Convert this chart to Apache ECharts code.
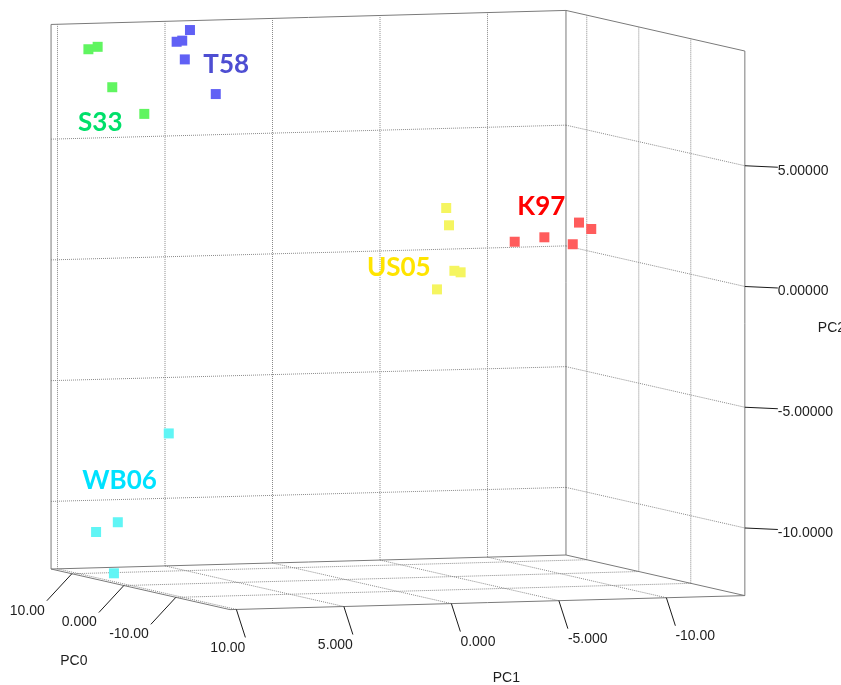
<!DOCTYPE html>
<html><head><meta charset="utf-8">
<script src="https://cdn.jsdelivr.net/npm/echarts@6/dist/echarts.min.js"></script>
<style>html,body{margin:0;padding:0;background:#fff}#c{width:841px;height:685px}</style>
</head><body><div id="c"></div>
<script>
// ---- data: PCA scores [PC0, PC1, PC2] ----
const groupNames = ['S33', 'T58', 'US05', 'K97', 'WB06'];
const s33Scores  = [[10, 9.53, 8.90], [10, 9.10, 8.99], [10, 8.42, 7.30], [10, 6.93, 6.16]];
const t58Scores  = [[8, 5.29, 9.69], [8, 5.91, 9.22], [8, 5.65, 9.26], [8, 5.53, 8.48], [8, 4.09, 7.01]];
const us05Scores = [[-2, -4.21, 2.58], [-2, -4.34, 1.86], [-2, -4.59, -0.03], [-2, -4.88, -0.10], [-2, -3.78, -0.78]];
const k97Scores  = [[-5, -6.67, 1.27], [-5, -8.05, 1.42], [-5, -9.37, 1.10], [-5, -9.66, 1.99], [-5, -10.23, 1.71]];
const wb06Scores = [[6, 6.76, -6.88], [6, 9.13, -10.50], [6, 10.14, -10.88], [6, 9.31, -12.61]];

const pc0Range = [-20.4, 14];
const pc1Range = [-13.65, 10.3];
const pc2Range = [-12.8, 9.75];
const pc0Ticks = [10, 0, -10];
const pc0TickLabels = ['10.00', '0.000', '-10.00'];
const pc1Ticks = [10, 5, 0, -5, -10];
const pc1TickLabels = ['10.00', '5.000', '0.000', '-5.000', '-10.00'];
const pc2Ticks = [5, 0, -5, -10];
const pc2TickLabels = ['5.00000', '0.00000', '-5.00000', '-10.0000'];
const axisNames = ['PC0', 'PC1', 'PC2'];

// ---- view (oblique projection of the 3D box onto the page) ----
const VIEW = { ox: 345.3, oy: 270.4, e0: [-5.2, -1.18], e1: [-21.5, 0.585], e2: [0, -24.15] };
function proj(p) {
  return [VIEW.ox + VIEW.e0[0] * p[0] + VIEW.e1[0] * p[1] + VIEW.e2[0] * p[2],
          VIEW.oy + VIEW.e0[1] * p[0] + VIEW.e1[1] * p[1] + VIEW.e2[1] * p[2]];
}
const groups = [s33Scores, t58Scores, us05Scores, k97Scores, wb06Scores];
const pointColors = ['#60f560', '#6060f5', '#f5f560', '#ff5c5c', '#60f5f5'];
const labelColors = ['#00e06a', '#4e4ed2', '#ffe400', '#ff0000', '#00e2ff'];

const [a0, b0] = pc0Range, [a1, b1] = pc1Range, [a2, b2] = pc2Range;
function seg(p, q) { const u = proj(p), v = proj(q); return [u[0], u[1], v[0], v[1]]; }

const solid = [
  seg([b0, b1, a2], [b0, b1, b2]), seg([b0, b1, b2], [b0, a1, b2]), seg([b0, a1, b2], [b0, a1, a2]),
  seg([b0, b1, a2], [b0, a1, a2]), seg([b0, a1, b2], [a0, a1, b2]), seg([a0, a1, b2], [a0, a1, a2]),
  seg([b0, a1, a2], [a0, a1, a2]), seg([b0, b1, a2], [a0, b1, a2]), seg([a0, b1, a2], [a0, a1, a2])
];
const dotted = [];
pc1Ticks.forEach(t => { dotted.push(seg([b0, t, a2], [b0, t, b2])); dotted.push(seg([b0, t, a2], [a0, t, a2])); });
pc2Ticks.forEach(t => { dotted.push(seg([b0, b1, t], [b0, a1, t])); dotted.push(seg([b0, a1, t], [a0, a1, t])); });
pc0Ticks.forEach(t => { dotted.push(seg([t, a1, a2], [t, a1, b2])); dotted.push(seg([t, b1, a2], [t, a1, a2])); });

// tick marks + labels
const TICK0 = [-25, 27], TICK1 = [9, 28], TICK2 = [33, 1.5];
const ticks = [], tickTexts = [];
pc0Ticks.forEach((t, i) => {
  const p = proj([t, b1, a2]); const e = [p[0] + TICK0[0], p[1] + TICK0[1]];
  ticks.push([p[0], p[1], e[0], e[1]]);
  tickTexts.push({ v: [e[0] - 2, e[1] + 10], text: pc0TickLabels[i], align: 'right' });
});
pc1Ticks.forEach((t, i) => {
  const p = proj([a0, t, a2]); const e = [p[0] + TICK1[0], p[1] + TICK1[1]];
  ticks.push([p[0], p[1], e[0], e[1]]);
  tickTexts.push({ v: [e[0], e[1] + 10.5], text: pc1TickLabels[i], align: t > 0 ? 'right' : 'left' });
});
pc2Ticks.forEach((t, i) => {
  const p = proj([a0, a1, t]); const e = [p[0] + TICK2[0], p[1] + TICK2[1]];
  ticks.push([p[0], p[1], e[0], e[1]]);
  tickTexts.push({ v: [e[0], e[1] + 3.5], text: pc2TickLabels[i], align: 'left' });
});
// axis names placed below/after their tick labels
const n0 = proj([0, b1, a2]), n1 = proj([a0, 0, a2]), n2 = proj([a0, a1, 0]);
tickTexts.push({ v: [n0[0] - 50, n0[1] + 76], text: axisNames[0], align: 'center' });
tickTexts.push({ v: [n1[0] + 55, n1[1] + 75], text: axisNames[1], align: 'center' });
tickTexts.push({ v: [n2[0] + 73, n2[1] + 42], text: axisNames[2], align: 'left' });

function segSeries(data, stroke, dash, z) {
  return {
    type: 'custom', silent: true, z: z, data: data, encode: { x: [0, 2], y: [1, 3] },
    renderItem: (params, api) => {
      const p = api.coord([api.value(0), api.value(1)]);
      const q = api.coord([api.value(2), api.value(3)]);
      return { type: 'line', shape: { x1: p[0], y1: p[1], x2: q[0], y2: q[1] },
               style: { stroke: stroke, lineWidth: 1, lineDash: dash } };
    }
  };
}

const chart = echarts.init(document.getElementById('c'), null, { renderer: 'canvas' });
const series = [
  segSeries(dotted, '#8a8a8a', [1, 1], 1),
  segSeries(solid, '#7a7a7a', null, 2),
  segSeries(ticks, '#1a1a1a', null, 2),
  {
    type: 'custom', silent: true, z: 3,
    data: tickTexts.map(t => ({ value: t.v, name: t.text })),
    renderItem: (params, api) => {
      const d = tickTexts[params.dataIndex];
      const p = api.coord(d.v);
      return { type: 'text', x: p[0], y: p[1],
               style: { text: d.text, fill: '#1e1e1e', font: '14px "Liberation Sans", Arial, sans-serif',
                        align: d.align, verticalAlign: 'middle', textAlign: d.align, textVerticalAlign: 'middle' } };
    }
  }
];
groups.forEach((g, i) => {
  series.push({
    type: 'scatter', name: groupNames[i], symbol: 'rect', symbolSize: 10, z: 5,
    itemStyle: { color: pointColors[i], opacity: 1 },
    data: g.map(proj)
  });
});

const labelPos = [[100.3, 121.7], [226.2, 63.3], [398.8, 266.7], [541.3, 205.5], [119.5, 479.7]];
chart.setOption({
  animation: false,
  grid: { left: 0, top: 0, right: 0, bottom: 0 },
  xAxis: { type: 'value', min: 0, max: 841, show: false },
  yAxis: { type: 'value', min: 0, max: 685, inverse: true, show: false },
  tooltip: { show: false },
  series: series,
  graphic: groupNames.map((n, i) => ({
    type: 'text', x: labelPos[i][0], y: labelPos[i][1] + 1, z: 10,
    style: { text: n, fill: labelColors[i], font: 'bold 26px Lato, "Open Sans", sans-serif',
             align: 'center', verticalAlign: 'middle', textAlign: 'center', textVerticalAlign: 'middle' }
  }))
});
</script></body></html>
